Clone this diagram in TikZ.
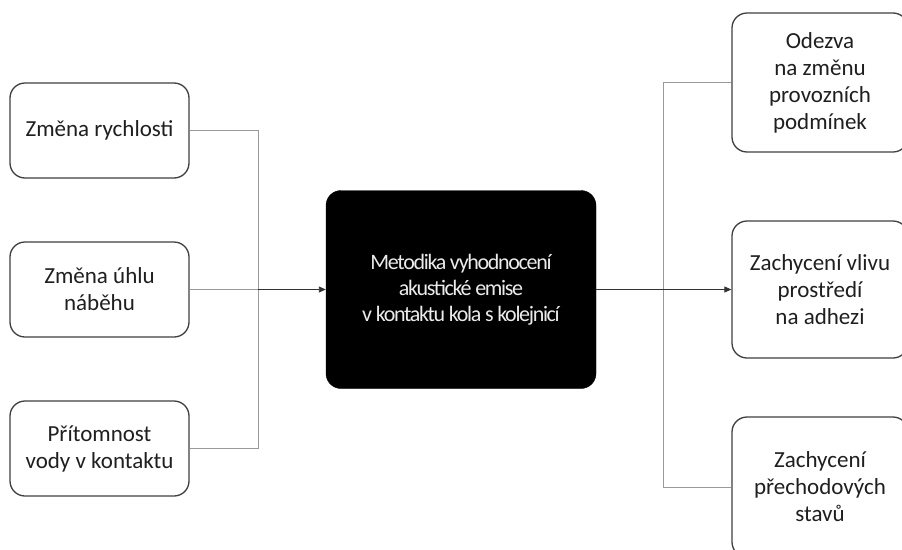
\documentclass[tikz,border=0pt]{standalone}
\usepackage{fontspec}
\setmainfont{Carlito}
\newfontfamily\tightfont[LetterSpace=-6]{Carlito}
\usetikzlibrary{arrows.meta}
\begin{document}
\begin{tikzpicture}[x=1pt,y=-1pt,
  inbox/.style={draw=black!75, line width=1.3pt, rounded corners=15pt, fill=white,
    minimum width=179pt, minimum height=95pt, align=center, inner sep=0pt,
    font=\fontsize{23}{27}\selectfont, text=black!88},
  outbox/.style={inbox, minimum width=176pt, minimum height=138pt},
  mainbox/.style={draw=black, fill=black, rounded corners=15pt, text=white!92!black,
    minimum width=270pt, minimum height=198pt, align=center, inner sep=0pt,
    font=\tightfont\fontsize{22}{26}\selectfont},
  conn/.style={draw=black!40, line width=0.9pt},
  arr/.style={draw=black!80, line width=0.9pt, -{Triangle[length=7pt,width=6pt]}}]
\clip (0,0) rectangle (902,549);
\fill[white] (0,0) rectangle (902,549);
\node[inbox] (l1) at (99.5,130.5) {Změna rychlosti};
\node[inbox] (l2) at (99.5,289.5) {Změna úhlu\\náběhu};
\node[inbox] (l3) at (99.5,448.5) {Přítomnost\\vody v kontaktu};
\node[mainbox] (m) at (461,289.5) {Metodika vyhodnocení\\akustické emise\\v kontaktu kola s kolejnicí};
\node[outbox, minimum height=139pt] (r1) at (820,82.5) {Odezva\\na změnu\\provozních\\podmínek};
\node[outbox, minimum height=137pt] (r2) at (820,289.5) {Zachycení vlivu\\prostředí\\na adhezi};
\node[outbox, minimum height=140pt] (r3) at (820,487) {Zachycení\\přechodových\\stavů};
\coordinate (jl) at (258,289.5);
\coordinate (jr) at (663,289.5);
\draw[conn] (l1.east) -| (jl);
\draw[conn] (l3.east) -| (jl);
\draw[conn] (l2.east) -- (jl);
\draw[conn] (r1.west) -| (jr);
\draw[conn] (r3.west) -| (jr);
\draw[arr] (jl) -- (m.west);
\draw[arr] (m.east) -- (r2.west);
\end{tikzpicture}
\end{document}
